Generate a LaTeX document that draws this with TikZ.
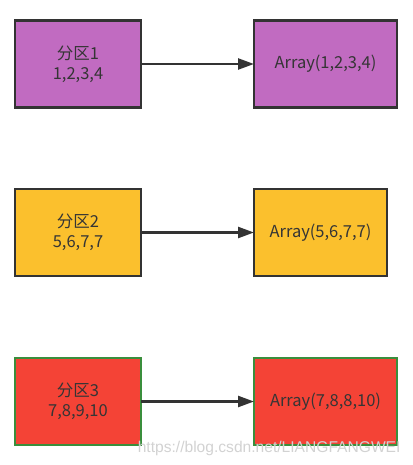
\documentclass[tikz,border=0pt]{standalone}
\usepackage{fontspec}
\setmainfont{Noto Sans CJK SC}
\newfontfamily\wmfont{Liberation Sans}
\usetikzlibrary{arrows.meta,positioning}
\definecolor{partpurple}{HTML}{C16BC1}
\definecolor{partorange}{HTML}{FBC02D}
\definecolor{partred}{HTML}{F44336}
\definecolor{edgegreen}{HTML}{3A8E3C}
\definecolor{edgedark}{HTML}{333333}
\definecolor{txtdark}{HTML}{353535}

\begin{document}
\begin{tikzpicture}[
        x=1pt, y=-1pt,
        node distance=113pt,
        box/.style={rectangle, draw=edgedark, line width=2.8pt, outer sep=0pt,
                    minimum width=126pt, minimum height=87pt,
                    align=center, text=txtdark,
                    font=\fontsize{16.5}{20}\selectfont},
        arr/.style={-{Triangle[length=16pt,width=11pt]}, line width=2.4pt, draw=edgedark}
      ]
      \useasboundingbox (0,0) rectangle (412,465);
      % partitions
      \node[box, fill=partpurple] (part1) at (78,64) {分区1\\1,2,3,4};
      \node[box, fill=partorange] (part2) at (78,232.5) {分区2\\5,6,7,7};
      \node[box, fill=partred, draw=edgegreen] (part3) at (78,401.5) {分区3\\7,8,9,10};
      % arrays
      \node[box, fill=partpurple, minimum width=143pt, right=of part1] (arr1) {Array(1,2,3,4)};
      \node[box, fill=partorange, minimum width=133pt, right=of part2] (arr2) {Array(5,6,7,7)};
      \node[box, fill=partred, draw=edgegreen, minimum width=143pt, right=of part3] (arr3) {Array(7,8,8,10)};

      \draw[arr] (part1) -- (arr1);
      \draw[arr] (part2) -- (arr2);
      \draw[arr] (part3) -- (arr3);

      \node[font=\wmfont\fontsize{15.6}{18}\selectfont, text=gray!35, anchor=east] (wm) at (404,448) {https://blog.csdn.net/LIANGFANGWEI};
    \end{tikzpicture}
\end{document}
